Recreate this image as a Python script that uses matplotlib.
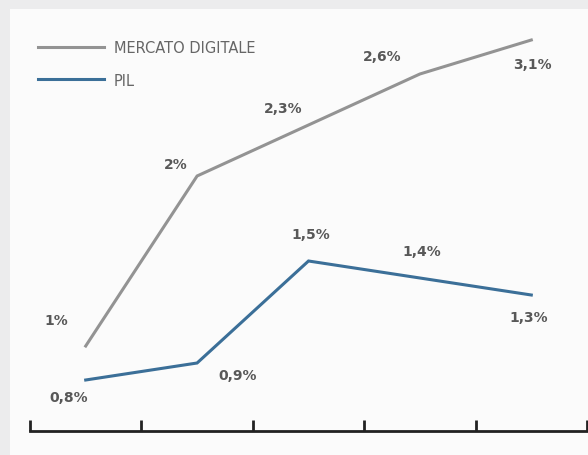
import matplotlib.pyplot as plt
from matplotlib.patches import Rectangle

# values as placed on the chart (last gray point sits lower than its label says)
periodi = [0, 1, 2, 3, 4]
mercato = [1.0, 2.0, 2.3, 2.6, 2.8]
mercato_lab = ['1%', '2%', '2,3%', '2,6%', '3,1%']
pil = [0.8, 0.9, 1.5, 1.4, 1.3]
pil_lab = ['0,8%', '0,9%', '1,5%', '1,4%', '1,3%']

gray = '#939393'
blue = '#3b6f98'
txt = '#585858'

fig = plt.figure(figsize=(5.88, 4.56), dpi=100, facecolor='#ececed')
fig.patches.append(Rectangle((10 / 588, 0), 1, 1 - 10 / 456, transform=fig.transFigure,
                             facecolor='#fbfbfb', edgecolor='none', zorder=-1))

ax = fig.add_axes([30 / 588, 24 / 456, 557 / 588, 432 / 456])
ax.set_zorder(1)
ax.patch.set_alpha(0)

xs = [p + 0.5 for p in periodi]
ax.plot(xs, mercato, color=gray, lw=2.2, solid_joinstyle='miter', label='MERCATO DIGITALE')
ax.plot(xs, pil, color=blue, lw=2.2, solid_joinstyle='miter', label='PIL')

# label offsets in pixels from each point
off_m = [(-29, 26), (-21, 12), (-25, 17), (-38, 18), (1, -24)]
off_p = [(-17, -17), (41, -12), (2, 27), (2, 27), (-3, -22)]
for x, v, s, o in zip(xs, mercato, mercato_lab, off_m):
    ax.annotate(s, (x, v), xytext=o, textcoords='offset pixels', ha='center', va='center',
                fontsize=10, fontweight='bold', color=txt)
for x, v, s, o in zip(xs, pil, pil_lab, off_p):
    ax.annotate(s, (x, v), xytext=o, textcoords='offset pixels', ha='center', va='center',
                fontsize=10, fontweight='bold', color=txt)

ax.set_xlim(0, 5)
ax.set_ylim(0.5, 0.5 + 432 / 170)
ax.set_xticks(range(6))
ax.set_xticklabels([])
ax.set_yticks([])
ax.tick_params(axis='x', direction='in', length=8, width=2, color='#222222')
for s in ['top', 'right', 'left']:
    ax.spines[s].set_visible(False)
ax.spines['bottom'].set_linewidth(2)
ax.spines['bottom'].set_color('#222222')

leg = ax.legend(loc='upper left', bbox_to_anchor=(8 / 557, 1 - 41 / 432), frameon=False,
                fontsize=10.5, handlelength=4.5, handletextpad=0.7, labelspacing=1.2,
                borderpad=0, borderaxespad=0)
for t in leg.get_texts():
    t.set_color('#666666')

fig.savefig('out.png', dpi=100, facecolor=fig.get_facecolor())
